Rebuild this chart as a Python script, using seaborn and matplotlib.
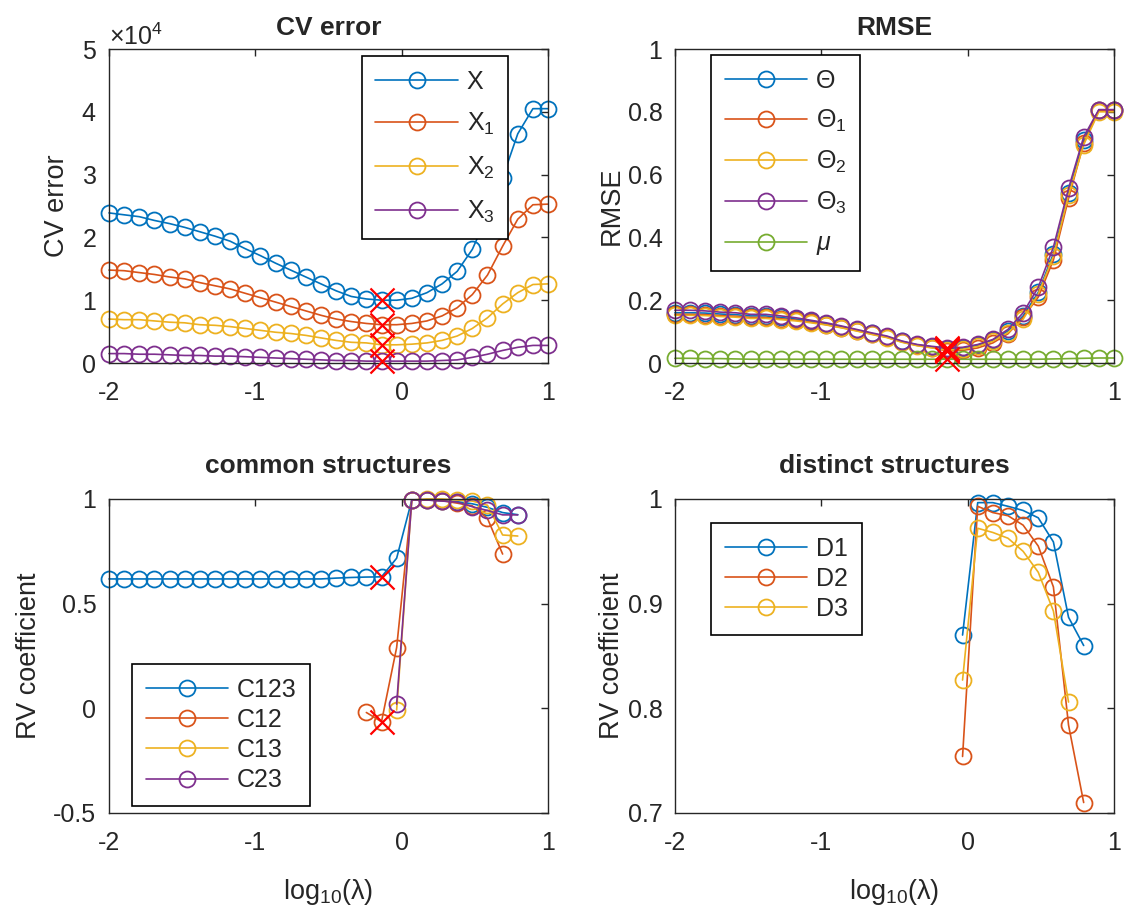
import numpy as np
import seaborn as sns
import matplotlib.pyplot as plt
from matplotlib.ticker import ScalarFormatter, FuncFormatter, FixedLocator

# log10(lambda) grid: 30 equally spaced points from -2 to 1
lam = np.linspace(-2, 1, 30)
best = 18  # index of the selected lambda (red crosses)

# CV error (x 1e4)
cv_x = np.array([2.39, 2.36, 2.33, 2.27, 2.22, 2.16, 2.09, 2.02, 1.94, 1.82,
                 1.71, 1.59, 1.48, 1.37, 1.26, 1.15, 1.06, 1.02, 1.00, 1.00,
                 1.03, 1.12, 1.26, 1.46, 1.81, 2.35, 2.95, 3.65, 4.05, 4.05]) * 1e4
cv_x1 = np.array([1.48, 1.47, 1.44, 1.41, 1.37, 1.34, 1.28, 1.23, 1.18, 1.11,
                  1.04, 0.97, 0.90, 0.83, 0.76, 0.70, 0.66, 0.63, 0.61, 0.61,
                  0.63, 0.67, 0.75, 0.88, 1.09, 1.40, 1.86, 2.29, 2.52, 2.53]) * 1e4
cv_x2 = np.array([0.70, 0.69, 0.69, 0.67, 0.65, 0.64, 0.61, 0.60, 0.58, 0.55,
                  0.52, 0.49, 0.47, 0.44, 0.40, 0.36, 0.33, 0.32, 0.29, 0.29,
                  0.30, 0.32, 0.36, 0.43, 0.55, 0.72, 0.94, 1.12, 1.25, 1.26]) * 1e4
cv_x3 = np.array([0.15, 0.15, 0.14, 0.14, 0.13, 0.12, 0.12, 0.11, 0.11, 0.10,
                  0.09, 0.08, 0.07, 0.06, 0.05, 0.04, 0.04, 0.03, 0.03, 0.03,
                  0.03, 0.03, 0.04, 0.05, 0.09, 0.14, 0.20, 0.25, 0.28, 0.28]) * 1e4

# RMSE
rmse_t = [0.160, 0.160, 0.159, 0.156, 0.154, 0.150, 0.150, 0.145, 0.140, 0.133,
          0.125, 0.116, 0.105, 0.094, 0.084, 0.069, 0.058, 0.051, 0.045, 0.047,
          0.056, 0.072, 0.102, 0.150, 0.225, 0.348, 0.540, 0.710, 0.805, 0.805]
rmse_t1 = [0.155, 0.155, 0.154, 0.151, 0.149, 0.145, 0.145, 0.141, 0.136, 0.130,
           0.122, 0.113, 0.103, 0.092, 0.082, 0.067, 0.056, 0.049, 0.038, 0.040,
           0.048, 0.064, 0.093, 0.145, 0.210, 0.328, 0.524, 0.700, 0.805, 0.805]
rmse_t2 = [0.152, 0.152, 0.151, 0.148, 0.146, 0.142, 0.142, 0.138, 0.134, 0.128,
           0.121, 0.112, 0.102, 0.091, 0.081, 0.066, 0.055, 0.048, 0.041, 0.044,
           0.053, 0.069, 0.097, 0.139, 0.220, 0.340, 0.535, 0.695, 0.800, 0.800]
rmse_t3 = [0.168, 0.168, 0.166, 0.162, 0.160, 0.155, 0.155, 0.150, 0.144, 0.136,
           0.128, 0.118, 0.107, 0.096, 0.086, 0.070, 0.059, 0.053, 0.048, 0.050,
           0.059, 0.075, 0.107, 0.160, 0.241, 0.369, 0.556, 0.720, 0.807, 0.807]
rmse_mu = [0.015, 0.015, 0.014, 0.014, 0.013, 0.012, 0.012, 0.012, 0.012, 0.012,
           0.012, 0.012, 0.012, 0.012, 0.012, 0.012, 0.012, 0.012, 0.012, 0.012,
           0.012, 0.012, 0.012, 0.012, 0.012, 0.013, 0.014, 0.015, 0.016, 0.016]

nan = np.nan
# RV coefficient, common structures
c123 = [0.618, 0.618, 0.618, 0.618, 0.618, 0.618, 0.618, 0.618, 0.618, 0.618,
        0.618, 0.618, 0.618, 0.618, 0.618, 0.622, 0.625, 0.627, 0.628, 0.717,
        0.995, 0.995, 0.992, 0.987, 0.977, 0.960, 0.935, 0.925, nan, nan]
c12 = [nan] * 17 + [-0.020, -0.064, 0.290, 0.995, 0.995, 0.992, 0.980, 0.967,
                    0.907, 0.737, nan, nan, nan]
c13 = [nan] * 19 + [-0.008, 0.995, 1.000, 1.000, 0.995, 0.990, 0.970, 0.828,
                    0.823, nan, nan]
c23 = [nan] * 19 + [0.020, 0.995, 0.995, 0.990, 0.985, 0.963, 0.945, 0.924,
                    0.924, nan, nan]

# RV coefficient, distinct structures
d1 = [nan] * 19 + [0.870, 0.9965, 0.9965, 0.993, 0.989, 0.982, 0.959, 0.887,
                   0.860, nan, nan]
d2 = [nan] * 19 + [0.754, 0.993, 0.987, 0.984, 0.975, 0.955, 0.916, 0.784,
                   0.710, nan, nan]
d3 = [nan] * 19 + [0.827, 0.972, 0.968, 0.9625, 0.950, 0.930, 0.893, 0.806,
                   nan, nan, nan]

colors = ["#0072BD", "#D95319", "#EDB120", "#7E2F8E", "#77AC30"]

sns.set_theme(style="white")
plt.rcParams.update({
    "font.family": ["Liberation Sans", "DejaVu Sans"],
    "mathtext.fontset": "custom",
    "mathtext.rm": "Liberation Sans",
    "mathtext.it": "Liberation Sans:italic",
    "mathtext.bf": "Liberation Sans:bold",
    "axes.unicode_minus": False,
    "axes.edgecolor": "#262626",
    "axes.linewidth": 1.0,
    "xtick.color": "#262626",
    "ytick.color": "#262626",
    "xtick.labelcolor": "#262626",
    "ytick.labelcolor": "#262626",
})

TICK = 18
LABEL = 19.5
TITLE = 19


def draw(ax, series, labels, crosses=()):
    for y, lab, col in zip(series, labels, colors):
        sns.lineplot(x=lam, y=np.asarray(y, dtype=float), ax=ax, color=col,
                     label=lab, marker="o", markersize=11.5, mfc="none",
                     mec=col, mew=1.3, linewidth=1.2, clip_on=False,
                     estimator=None, sort=False)
    for y in crosses:
        sns.scatterplot(x=[lam[best]], y=[y[best]], ax=ax, marker="x",
                        s=300, color="red", linewidth=1.6, clip_on=False,
                        zorder=5, legend=False)


def style(ax, ylim, yticks):
    ax.set_xlim(-2, 1)
    ax.set_ylim(*ylim)
    ax.xaxis.set_major_locator(FixedLocator([-2, -1, 0, 1]))
    ax.yaxis.set_major_locator(FixedLocator(yticks))
    ax.xaxis.set_major_formatter(FuncFormatter(lambda v, p: "%g" % v))
    ax.tick_params(direction="in", length=5, width=1, top=True, right=True,
                   labelsize=TICK)
    ax.tick_params(axis="x", pad=13)
    ax.tick_params(axis="y", pad=9)
    for s in ax.spines.values():
        s.set_visible(True)


def legend(ax, loc, anchor, spacing):
    ax.legend(loc=loc, bbox_to_anchor=anchor, borderaxespad=0,
              fontsize=TICK, fancybox=False, edgecolor="black",
              framealpha=1, handlelength=3.3, handletextpad=0.35,
              borderpad=0.55, labelspacing=spacing, numpoints=1)
    ax.get_legend().get_frame().set_linewidth(1.2)


fig, axes = plt.subplots(2, 2, figsize=(11.26, 9.11), dpi=100)
fig.subplots_adjust(left=0.0968, right=0.9893, top=0.9462, bottom=0.1076,
                    wspace=0.289, hspace=0.433)

# CV error
ax = axes[0, 0]
draw(ax, [cv_x, cv_x1, cv_x2, cv_x3],
     ["X", r"X$_{1}$", r"X$_{2}$", r"X$_{3}$"],
     crosses=[cv_x, cv_x1, cv_x2, cv_x3])
style(ax, (0, 5e4), [0, 1e4, 2e4, 3e4, 4e4, 5e4])
fmt = ScalarFormatter(useMathText=True)
fmt.set_powerlimits((0, 0))
ax.yaxis.set_major_formatter(fmt)
ax.yaxis.get_offset_text().set_fontsize(TICK)
ax.set_title("CV error", fontsize=TITLE, fontweight="bold", pad=10)
ax.set_ylabel("CV error", fontsize=LABEL, labelpad=8)
legend(ax, "upper right", (0.909, 0.978), 0.7)

# RMSE
ax = axes[0, 1]
draw(ax, [rmse_t, rmse_t1, rmse_t2, rmse_t3, rmse_mu],
     ["Θ", r"Θ$_{1}$", r"Θ$_{2}$", r"Θ$_{3}$", r"$\mu$"],
     crosses=[rmse_t, rmse_t1, rmse_t2, rmse_t3, rmse_mu])
style(ax, (0, 1), [0, 0.2, 0.4, 0.6, 0.8, 1])
ax.yaxis.set_major_formatter(FuncFormatter(lambda v, p: "%g" % v))
ax.set_title("RMSE", fontsize=TITLE, fontweight="bold", pad=10)
ax.set_ylabel("RMSE", fontsize=LABEL, labelpad=2)
legend(ax, "upper left", (0.082, 0.981), 0.6)

# common structures
ax = axes[1, 0]
draw(ax, [c123, c12, c13, c23], ["C123", "C12", "C13", "C23"],
     crosses=[c123, c12])
style(ax, (-0.5, 1), [-0.5, 0, 0.5, 1])
ax.yaxis.set_major_formatter(FuncFormatter(lambda v, p: "%g" % v))
ax.set_title("common structures", fontsize=TITLE, fontweight="bold", pad=19)
ax.set_ylabel("RV coefficient", fontsize=LABEL, labelpad=8)
ax.set_xlabel(r"log$_{10}$(λ)", fontsize=LABEL, labelpad=16)
legend(ax, "lower left", (0.052, 0.022), 0.25)

# distinct structures
ax = axes[1, 1]
draw(ax, [d1, d2, d3], ["D1", "D2", "D3"])
style(ax, (0.7, 1), [0.7, 0.8, 0.9, 1])
ax.yaxis.set_major_formatter(FuncFormatter(lambda v, p: "%g" % v))
ax.set_title("distinct structures", fontsize=TITLE, fontweight="bold", pad=19)
ax.set_ylabel("RV coefficient", fontsize=LABEL, labelpad=2)
ax.set_xlabel(r"log$_{10}$(λ)", fontsize=LABEL, labelpad=16)
legend(ax, "upper left", (0.082, 0.924), 0.25)

fig.savefig("out.png", dpi=100, facecolor="white")
